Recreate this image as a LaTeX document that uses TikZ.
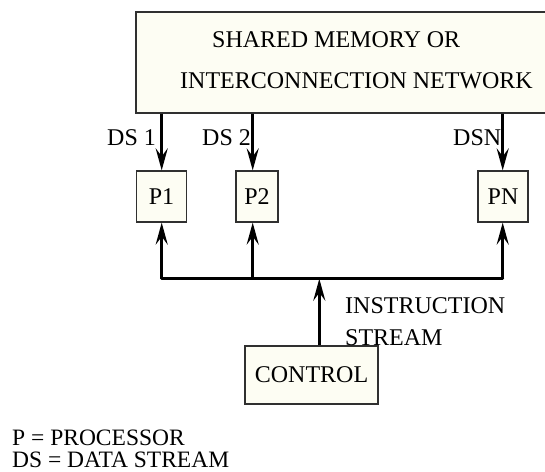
\documentclass[tikz,border=0pt]{standalone}
\usepackage{fontspec}
\setmainfont{Liberation Serif}
\usetikzlibrary{arrows.meta}
\definecolor{boxfill}{HTML}{FDFDF3}
\definecolor{boxline}{HTML}{303030}
\tikzset{
  unitbox/.style={draw=boxline, line width=1.2pt, fill=boxfill, inner sep=0pt, font=\fontsize{24}{26}\selectfont},
  lbl/.style={inner sep=0pt, anchor=base west, font=\fontsize{24}{26}\selectfont},
  flow/.style={line width=3pt, -{Stealth[length=22pt,width=12pt,inset=8pt]}},
  busline/.style={line width=3pt, line cap=round}
}
\begin{document}
\begin{tikzpicture}[x=1pt,y=-1pt]
\useasboundingbox (0,0) rectangle (545,471);

% shared memory / interconnection network
\node[unitbox, minimum width=412pt, minimum height=101pt] (mem) at (342,62.5) {};
\node[lbl] (memA) at (212,47) {SHARED MEMORY OR};
\node[lbl] (memB) at (180,88) {INTERCONNECTION NETWORK};

% processors
\node[unitbox, minimum width=50.5pt, minimum height=51pt] (p1) at (161.5,196.5) {P1};
\node[unitbox, minimum width=42pt, minimum height=51pt] (p2) at (257,196.5) {P2};
\node[unitbox, minimum width=50pt, minimum height=51pt] (pn) at (503,196.5) {PN};

% control unit
\node[unitbox, minimum width=133pt, minimum height=58pt] (ctrl) at (311.5,375) {CONTROL};

% data streams
\coordinate (c1) at (161.7,0);
\coordinate (c2) at (252.7,0);
\coordinate (cn) at (502.7,0);
\draw[flow] (mem.south -| c1) -- (p1.north -| c1);
\draw[flow] (mem.south -| c2) -- (p2.north -| c2);
\draw[flow] (mem.south -| cn) -- (pn.north -| cn);
\node[lbl] (ds1) at (107,145) {DS 1};
\node[lbl] (ds2) at (202,145) {DS 2};
\node[lbl] (dsn) at (453,145) {DSN};

% instruction stream bus
\coordinate (bus) at (319.3,278.7);
\draw[busline] (bus -| c1) -- (bus -| cn);
\draw[flow] (bus -| c1) -- (p1.south -| c1);
\draw[flow] (bus -| c2) -- (p2.south -| c2);
\draw[flow] (bus -| cn) -- (pn.south -| cn);
\draw[flow] (ctrl.north -| bus) -- (bus);
\node[lbl, align=left, font=\fontsize{24}{32}\selectfont] (is) at (345,345) {INSTRUCTION\\STREAM};

% legend
\node[inner sep=0pt, anchor=south west, align=left, font=\fontsize{23.5}{22}\selectfont] (legend) at (12,467.5) {P = PROCESSOR\\DS = DATA STREAM};
\end{tikzpicture}
\end{document}
